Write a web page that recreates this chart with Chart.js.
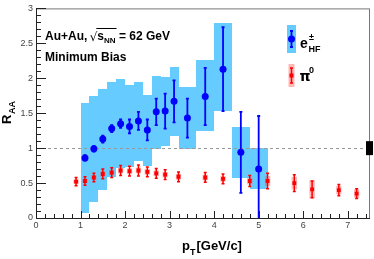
<!DOCTYPE html>
<html>
<head>
<meta charset="utf-8">
<script src="https://cdn.jsdelivr.net/npm/chart.js@4.4.0/dist/chart.umd.min.js"></script>
<style>
  html, body { margin: 0; padding: 0; background: #fff; overflow: hidden; }
  #wrap { width: 374px; height: 259px; position: relative; }
</style>
</head>
<body>
<div id="wrap"><canvas id="raa"></canvas></div>
<script>
// heavy-flavour electrons, Au+Au 62 GeV
const ePt      = [1.1, 1.3, 1.5, 1.7, 1.9, 2.1, 2.3, 2.5, 2.7, 2.9, 3.1, 3.4, 3.8, 4.2, 4.6, 5.0];
const eRaa     = [0.86, 0.99, 1.13, 1.28, 1.35, 1.31, 1.39, 1.26, 1.52, 1.53, 1.67, 1.43, 1.74, 2.13, 0.94, 0.70];
const eStat    = [0.04, 0.04, 0.05, 0.05, 0.06, 0.10, 0.13, 0.15, 0.19, 0.25, 0.30, 0.28, 0.41, 0.60, 0.58, 0.76];
const eSysLow  = [0.07, 0.235, 0.40, 0.59, 0.71, 0.73, 0.82, 0.75, 0.99, 1.03, 1.17, 0.99, 1.25, 1.53, 0.57, 0.41];
const eSysHigh = [1.65, 1.74, 1.85, 1.95, 1.99, 1.90, 1.94, 1.76, 2.03, 2.02, 2.16, 1.88, 2.26, 2.79, 1.30, 1.00];
const eBinHalf = [0.1, 0.1, 0.1, 0.1, 0.1, 0.1, 0.1, 0.1, 0.1, 0.1, 0.1, 0.2, 0.2, 0.2, 0.2, 0.2];

// pi0 reference
const piPt   = [0.9, 1.1, 1.3, 1.5, 1.7, 1.9, 2.1, 2.3, 2.5, 2.7, 2.9, 3.2, 3.8, 4.2, 4.8, 5.2, 5.8, 6.2, 6.8, 7.2];
const piRaa  = [0.52, 0.53, 0.58, 0.63, 0.65, 0.68, 0.67, 0.68, 0.66, 0.64, 0.62, 0.59, 0.58, 0.56, 0.53, 0.53, 0.50, 0.41, 0.40, 0.35];
const piStat = [0.06, 0.06, 0.06, 0.07, 0.07, 0.07, 0.07, 0.08, 0.07, 0.07, 0.07, 0.07, 0.07, 0.07, 0.08, 0.11, 0.12, 0.12, 0.08, 0.07];
const piSys  = [0.03, 0.03, 0.03, 0.04, 0.04, 0.04, 0.04, 0.04, 0.04, 0.04, 0.04, 0.04, 0.04, 0.04, 0.05, 0.07, 0.09, 0.13, 0.06, 0.06];

const yTickLabels = ["0", "0.5", "1", "1.5", "2", "2.5", "3"];
const xTickLabels = ["0", "1", "2", "3", "4", "5", "6", "7"];
const normUnc = 0.1;

const BLUE = "#0000ff", RED = "#ff0000", BOX_BLUE = "#66ccff", BOX_PINK = "rgba(255,80,80,0.42)";
const FONT = "'Liberation Sans', Arial, Helvetica, sans-serif";

function bar(ctx, px, y1, y2, cap){
  ctx.beginPath();
  ctx.moveTo(px, y1); ctx.lineTo(px, y2);
  ctx.moveTo(px - cap, y1); ctx.lineTo(px + cap, y1);
  ctx.moveTo(px - cap, y2); ctx.lineTo(px + cap, y2);
  ctx.stroke();
}

const hepPlugin = {
  id: "hep",
  beforeDatasetsDraw(chart){
    const { ctx, chartArea: a, scales: { x, y } } = chart;
    ctx.save();
    ctx.beginPath(); ctx.rect(a.left, a.top, a.right - a.left, a.bottom - a.top); ctx.clip();

    // systematic boxes for electrons (snapped so neighbours join without seams)
    ctx.fillStyle = BOX_BLUE;
    ePt.forEach((pt, i) => {
      const x1 = Math.round(x.getPixelForValue(pt - eBinHalf[i])), x2 = Math.round(x.getPixelForValue(pt + eBinHalf[i]));
      const y1 = Math.round(y.getPixelForValue(eSysHigh[i])), y2 = Math.round(y.getPixelForValue(eSysLow[i]));
      ctx.fillRect(x1, y1, x2 - x1, y2 - y1);
    });

    // dashed line at 1
    ctx.strokeStyle = "#999"; ctx.lineWidth = 1; ctx.setLineDash([3, 3]);
    ctx.beginPath();
    const y1px = Math.round(y.getPixelForValue(1)) + 0.5;
    ctx.moveTo(a.left, y1px); ctx.lineTo(a.right, y1px); ctx.stroke();
    ctx.setLineDash([]);

    // pi0 sys boxes + stat bars
    ctx.fillStyle = BOX_PINK;
    piPt.forEach((pt, i) => {
      const x1 = x.getPixelForValue(pt - 0.06), x2 = x.getPixelForValue(pt + 0.06);
      const y1 = y.getPixelForValue(piRaa[i] + piSys[i]), y2 = y.getPixelForValue(piRaa[i] - piSys[i]);
      ctx.fillRect(x1, y1, x2 - x1, y2 - y1);
    });
    ctx.strokeStyle = RED; ctx.lineWidth = 1.5;
    piPt.forEach((pt, i) => {
      bar(ctx, x.getPixelForValue(pt), y.getPixelForValue(piRaa[i] + piStat[i]), y.getPixelForValue(piRaa[i] - piStat[i]), 1.5);
    });

    // electron stat bars
    ctx.strokeStyle = BLUE; ctx.lineWidth = 1.8;
    ePt.forEach((pt, i) => {
      bar(ctx, x.getPixelForValue(pt), y.getPixelForValue(eRaa[i] + eStat[i]), y.getPixelForValue(eRaa[i] - eStat[i]), 1.5);
    });
    ctx.restore();
  },
  afterDraw(chart){
    const { ctx, chartArea: a, scales: { x, y } } = chart;
    ctx.save();

    // frame
    ctx.lineWidth = 1;
    ctx.strokeStyle = "#777";
    ctx.strokeRect(a.left + 0.5, a.top + 0.5, a.right - a.left - 1, a.bottom - a.top);
    ctx.strokeStyle = "#222";
    ctx.beginPath();
    ctx.moveTo(a.left + 0.5, a.top); ctx.lineTo(a.left + 0.5, a.bottom + 0.5); ctx.lineTo(a.right, a.bottom + 0.5);
    ctx.stroke();

    // inward ticks
    ctx.beginPath();
    for (let k = 0; k <= 30; k++) {
      const py = Math.round(y.getPixelForValue(k / 10)) + 0.5;
      const len = k % 5 === 0 ? 10 : 5;
      ctx.moveTo(a.left, py); ctx.lineTo(a.left + len, py);
    }
    for (let k = 0; k <= 37; k++) {
      const px = Math.round(x.getPixelForValue(k / 5)) + 0.5;
      const len = k % 5 === 0 ? 7 : 4;
      ctx.moveTo(px, a.bottom); ctx.lineTo(px, a.bottom - len);
    }
    ctx.stroke();

    // normalisation uncertainty box
    ctx.fillStyle = "#000";
    const ny1 = y.getPixelForValue(1 + normUnc), ny2 = y.getPixelForValue(1 - normUnc);
    ctx.fillRect(a.right - 4, ny1, 7, ny2 - ny1);

    // axis titles
    ctx.fillStyle = "#000";
    ctx.textBaseline = "alphabetic";
    ctx.font = "bold 13px " + FONT;
    ctx.fillText("p", 182, 250);
    const pw = ctx.measureText("p").width;
    ctx.font = "bold 9px " + FONT;
    ctx.fillText("T", 182 + pw, 255);
    const tw = ctx.measureText("T").width;
    ctx.font = "bold 13px " + FONT;
    ctx.fillText("[GeV/c]", 182 + pw + tw + 1, 250);

    ctx.save();
    ctx.translate(11, 124);
    ctx.rotate(-Math.PI / 2);
    ctx.font = "bold 13px " + FONT;
    ctx.fillText("R", 0, 0);
    const rw = ctx.measureText("R").width;
    ctx.font = "bold 9px " + FONT;
    ctx.fillText("AA", rw + 0.5, 4);
    ctx.restore();

    // annotations
    ctx.font = "bold 12px " + FONT;
    let tx = 45;
    ctx.fillText("Au+Au, ", tx, 40);
    tx += ctx.measureText("Au+Au, ").width;
    ctx.font = "12px 'DejaVu Sans', sans-serif";
    ctx.fillText("\u221A", tx - 1, 41);
    tx += ctx.measureText("\u221A").width - 1;
    const sx0 = tx;
    ctx.font = "bold 12px " + FONT;
    ctx.fillText("s", tx, 40);
    tx += ctx.measureText("s").width;
    ctx.font = "bold 8px " + FONT;
    ctx.fillText("NN", tx, 43);
    tx += ctx.measureText("NN").width;
    ctx.strokeStyle = "#000"; ctx.lineWidth = 1;
    ctx.beginPath(); ctx.moveTo(sx0 - 1, 28.5); ctx.lineTo(tx + 1, 28.5); ctx.stroke();
    ctx.font = "bold 12px " + FONT;
    ctx.fillText(" = 62 GeV", tx, 40);
    ctx.fillText("Minimum Bias", 45, 61);

    // legend
    ctx.fillStyle = BOX_BLUE;
    ctx.fillRect(287, 25, 9, 28);
    ctx.strokeStyle = BLUE; ctx.lineWidth = 1.8;
    bar(ctx, 291.5, 31, 47, 1.5);
    ctx.fillStyle = BLUE;
    ctx.beginPath(); ctx.arc(291.5, 39, 3.5, 0, Math.PI * 2); ctx.fill();
    ctx.fillStyle = "#000";
    ctx.font = "bold 14px " + FONT;
    ctx.fillText("e", 300, 48);
    ctx.font = "bold 9px " + FONT;
    ctx.fillText("\u00B1", 309, 40);
    ctx.fillText("HF", 308.5, 52);

    ctx.fillStyle = BOX_PINK;
    ctx.fillRect(288.5, 64, 6, 23);
    ctx.strokeStyle = RED; ctx.lineWidth = 1.5;
    bar(ctx, 291.5, 68, 83, 1.5);
    ctx.fillStyle = RED;
    ctx.fillRect(289.5, 73.5, 4, 4);
    ctx.fillStyle = "#000";
    ctx.font = "bold 14px 'DejaVu Sans', sans-serif";
    ctx.fillText("\u03C0", 299.5, 81);
    ctx.font = "bold 9px " + FONT;
    ctx.fillText("0", 309, 73);

    ctx.restore();
  }
};

new Chart(document.getElementById("raa"), {
  type: "scatter",
  data: {
    datasets: [
      {
        label: "pi0",
        data: piPt.map((pt, i) => ({ x: pt, y: piRaa[i] })),
        pointStyle: "rect",
        pointRadius: 2.7,
        backgroundColor: RED,
        borderWidth: 0
      },
      {
        label: "eHF",
        data: ePt.map((pt, i) => ({ x: pt, y: eRaa[i] })),
        pointRadius: 3.5,
        backgroundColor: BLUE,
        borderWidth: 0
      }
    ]
  },
  options: {
    responsive: true,
    maintainAspectRatio: false,
    animation: false,
    devicePixelRatio: 1,
    layout: { padding: { top: 4, right: 2, left: 0, bottom: 0 } },
    plugins: { legend: { display: false }, tooltip: { enabled: false } },
    scales: {
      x: {
        type: "linear", min: 0, max: 7.5,
        grid: { display: false, drawTicks: false }, border: { display: false },
        ticks: {
          autoSkip: false, maxRotation: 0, padding: 2,
          color: "#444", font: { family: FONT, size: 9 },
          callback: (v, i) => xTickLabels[i] ?? ""
        },
        afterBuildTicks: s => { s.ticks = xTickLabels.map(t => ({ value: parseFloat(t) })); },
        afterFit: s => { s.height = 41; }
      },
      y: {
        type: "linear", min: 0, max: 3,
        grid: { display: false, drawTicks: false }, border: { display: false },
        ticks: {
          autoSkip: false, padding: 3,
          color: "#444", font: { family: FONT, size: 9 },
          callback: (v, i) => yTickLabels[i] ?? ""
        },
        afterBuildTicks: s => { s.ticks = yTickLabels.map(t => ({ value: parseFloat(t) })); },
        afterFit: s => { s.width = 36; }
      }
    }
  },
  plugins: [hepPlugin]
});
</script>
</body>
</html>
